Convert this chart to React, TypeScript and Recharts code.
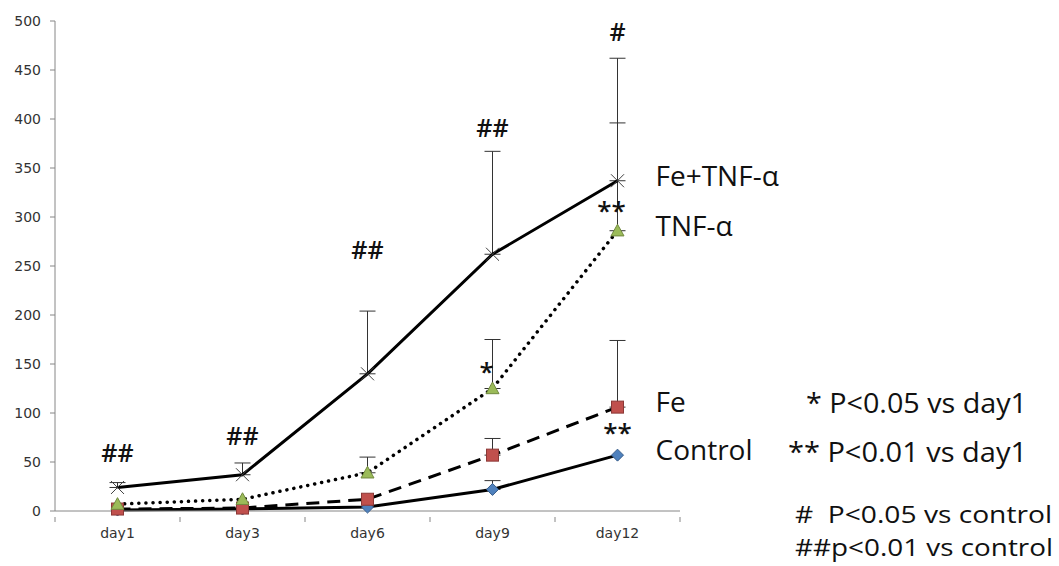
import React from "react";
import {
  LineChart,
  Line,
  XAxis,
  YAxis,
  ErrorBar,
  LabelList,
} from "recharts";

const days = ["day1", "day3", "day6", "day9", "day12"];
const yTicks = [0, 50, 100, 150, 200, 250, 300, 350, 400, 450, 500];

const feTnf = [24, 37, 140, 262, 337];
const feTnfUp = [5, 12, 64, 105, 125];
const tnf = [7, 12, 39, 125, 286];
const tnfUp = [0, 0, 16, 50, 110];
const fe = [2, 3, 12, 57, 106];
const feUp = [0, 0, 0, 17, 68];
const control = [1, 2, 4, 22, 57];
const controlUp = [0, 0, 0, 9, 0];

// significance marks vs control (Fe+TNF-α)
const hashText = ["##", "##", "##", "##", "#"];
const hashY = [60, 78, 267, 392, 490];
// significance marks vs day1
const tnfStarText = [null, null, null, "*", "**"];
const tnfStarY = [null, null, null, 143, 307];
const ctrlStarText = [null, null, null, null, "**"];
const ctrlStarY = [null, null, null, null, 81];

const seriesNames = ["Fe+TNF-α", "TNF-α", "Fe", "Control"];
const pNotes = ["* P<0.05 vs day1", "** P<0.01 vs day1", "#  P<0.05 vs control", "##p<0.01 vs control"];

const data = days.map((d, i) => ({
  day: d,
  feTnf: feTnf[i],
  feTnfErr: feTnfUp[i] ? [0, feTnfUp[i]] : null,
  tnf: tnf[i],
  tnfErr: tnfUp[i] ? [0, tnfUp[i]] : null,
  fe: fe[i],
  feErr: feUp[i] ? [0, feUp[i]] : null,
  control: control[i],
  controlErr: controlUp[i] ? [0, controlUp[i]] : null,
  hashY: hashY[i],
  hashText: hashText[i],
  tnfStarY: tnfStarY[i],
  tnfStarText: tnfStarText[i],
  ctrlStarY: ctrlStarY[i],
  ctrlStarText: ctrlStarText[i],
}));

const bigFont = "'Open Sans', sans-serif";
const tickFont = { fontSize: 14, fontFamily: "'DejaVu Sans', sans-serif", fill: "#333" };
const band = 125;

// category label plus Excel-style tick marks between categories
const DayTick = (p: any) => {
  const { x, y, payload, index } = p;
  const axisY = y - 11;
  return (
    <g>
      <line x1={x - band / 2} y1={axisY} x2={x - band / 2} y2={axisY + 5} stroke="#868686" />
      {index === days.length - 1 && <line x1={x + band / 2} y1={axisY} x2={x + band / 2} y2={axisY + 5} stroke="#868686" />}
      <text x={x} y={y} dy="0.71em" textAnchor="middle" {...tickFont}>
        {payload.value}
      </text>
    </g>
  );
};

const CrossDot = (p: any) => {
  const { cx, cy, index } = p;
  const s = 6.5;
  return (
    <g key={index} stroke="#404040" strokeWidth={1}>
      <line x1={cx - s} y1={cy - s} x2={cx + s} y2={cy + s} />
      <line x1={cx - s} y1={cy + s} x2={cx + s} y2={cy - s} />
    </g>
  );
};

const TriDot = (p: any) => {
  const { cx, cy, index } = p;
  const s = 6.5;
  return (
    <path
      key={index}
      d={`M${cx},${cy - s} L${cx + s},${cy + s * 0.8} L${cx - s},${cy + s * 0.8} Z`}
      fill="#9BBB59"
      stroke="#71893F"
      strokeWidth={1}
    />
  );
};

const SquareDot = (p: any) => {
  const { cx, cy, index } = p;
  const s = 6;
  return <rect key={index} x={cx - s} y={cy - s} width={s * 2} height={s * 2} fill="#C0504D" stroke="#8C3836" strokeWidth={1} />;
};

const DiamondDot = (p: any) => {
  const { cx, cy, index } = p;
  const s = 6;
  return (
    <path
      key={index}
      d={`M${cx},${cy - s} L${cx + s},${cy} L${cx},${cy + s} L${cx - s},${cy} Z`}
      fill="#4F81BD"
      stroke="#385D8A"
      strokeWidth={1}
    />
  );
};

const noteLabel = (dx: number, size: number) => (p: any) => {
  const { x, y, value, index } = p;
  if (value == null || x == null || y == null) return null;
  return (
    <text key={index} x={x + dx} y={y} textAnchor="middle" dominantBaseline="central" fontSize={size} fontWeight={600} fontFamily={bigFont} fill="#111">
      {value}
    </text>
  );
};

const nameLabel = (name: string) => (p: any) => {
  const { x, y, index } = p;
  if (index !== days.length - 1) return null;
  return (
    <text key={index} x={x + 38} y={y + 5} fontSize={28} fontFamily={bigFont} fill="#111">
      {name}
    </text>
  );
};

const noteLeft = [806, 788, 795, 795];
const noteWidth = [221, 239, 257, 258];
const noteBase = [413, 462, 523, 556];
const noteSize = [28, 28, 23, 23];

export default function App() {
  return (
    <div style={{ position: "absolute", left: 0, top: 0, width: 1059, height: 566, background: "#fff" }}>
      <LineChart width={1059} height={566} data={data} margin={{ top: 21, right: 379, bottom: 25, left: 0 }}>
        <XAxis
          dataKey="day"
          height={30}
          padding={{ left: 62.5, right: 62.5 }}
          tickLine={false}
          axisLine={{ stroke: "#868686" }}
          tickMargin={11}
          tick={DayTick}
          interval={0}
        />
        <YAxis
          width={55}
          domain={[0, 500]}
          ticks={yTicks}
          interval={0}
          axisLine={{ stroke: "#868686" }}
          tickLine={{ stroke: "#868686" }}
          tickSize={5}
          tickMargin={9}
          tick={tickFont}
        />
        <Line dataKey="control" stroke="#000" strokeWidth={3} dot={DiamondDot} activeDot={false} isAnimationActive={false}>
          <ErrorBar dataKey="controlErr" direction="y" width={8} stroke="#333" strokeWidth={1} />
          <LabelList dataKey="control" content={nameLabel(seriesNames[3])} />
        </Line>
        <Line dataKey="fe" stroke="#000" strokeWidth={3} strokeDasharray="13 8" dot={SquareDot} activeDot={false} isAnimationActive={false}>
          <ErrorBar dataKey="feErr" direction="y" width={8} stroke="#333" strokeWidth={1} />
          <LabelList dataKey="fe" content={nameLabel(seriesNames[2])} />
        </Line>
        <Line dataKey="tnf" stroke="#000" strokeWidth={3.5} strokeDasharray="0.1 7" strokeLinecap="round" dot={TriDot} activeDot={false} isAnimationActive={false}>
          <ErrorBar dataKey="tnfErr" direction="y" width={8} stroke="#333" strokeWidth={1} />
          <LabelList dataKey="tnf" content={nameLabel(seriesNames[1])} />
        </Line>
        <Line dataKey="feTnf" stroke="#000" strokeWidth={3} dot={CrossDot} activeDot={false} isAnimationActive={false}>
          <ErrorBar dataKey="feTnfErr" direction="y" width={8} stroke="#333" strokeWidth={1} />
          <LabelList dataKey="feTnf" content={nameLabel(seriesNames[0])} />
        </Line>
        <Line dataKey="hashY" stroke="none" dot={false} activeDot={false} isAnimationActive={false}>
          <LabelList dataKey="hashText" content={noteLabel(0, 25)} />
        </Line>
        <Line dataKey="tnfStarY" stroke="none" dot={false} activeDot={false} isAnimationActive={false}>
          <LabelList dataKey="tnfStarText" content={noteLabel(-6, 26)} />
        </Line>
        <Line dataKey="ctrlStarY" stroke="none" dot={false} activeDot={false} isAnimationActive={false}>
          <LabelList dataKey="ctrlStarText" content={noteLabel(0, 26)} />
        </Line>
      </LineChart>
      <svg width={1059} height={566} style={{ position: "absolute", left: 0, top: 0, pointerEvents: "none" }}>
        {pNotes.map((t, i) => (
          <text
            key={t}
            x={noteLeft[i]}
            y={noteBase[i]}
            textLength={noteWidth[i]}
            lengthAdjust="spacingAndGlyphs"
            fontSize={noteSize[i]}
            fontFamily={bigFont}
            fill="#111"
            style={{ whiteSpace: "pre" }}
          >
            {t}
          </text>
        ))}
      </svg>
    </div>
  );
}
